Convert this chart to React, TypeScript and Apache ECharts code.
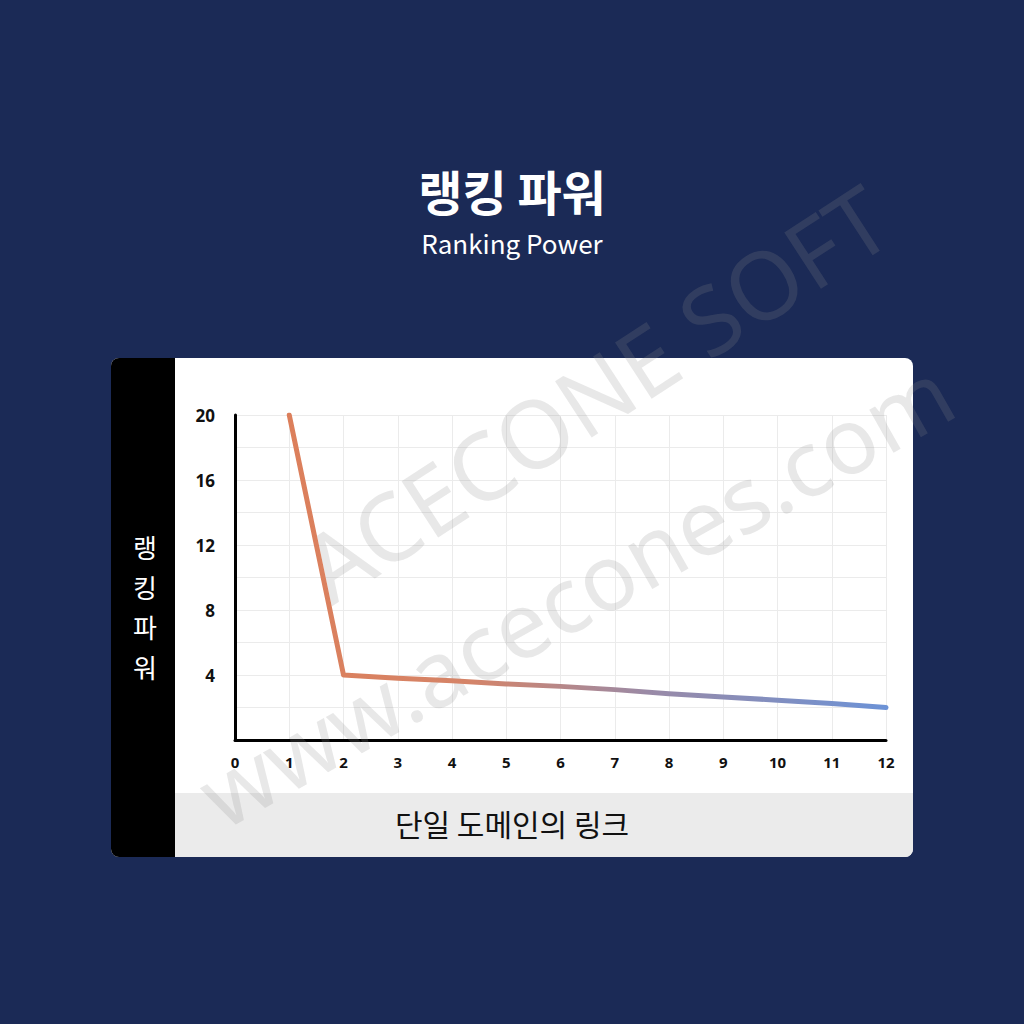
import { useEffect, useRef } from "react";
import * as echarts from "echarts";

// links from one domain (x) vs ranking power (y)
const linkCounts = [1, 2, 3, 4, 5, 6, 7, 8, 9, 10, 11, 12];
const rankingPower = [20, 4.0, 3.8, 3.65, 3.45, 3.3, 3.1, 2.85, 2.65, 2.45, 2.25, 2.0];
const yTickLabels = [4, 8, 12, 16, 20];

const titleText = "랭킹 파워";
const subtitleText = "Ranking Power";
const yAxisName = ["랭", "킹", "파", "워"];
const xAxisName = "단일 도메인의 링크";

const NAVY = "#1b2a56";
const LABEL_FONT = "'Noto Sans', 'Noto Sans CJK KR', sans-serif";
const KR_FONT = "'Noto Sans CJK KR', 'Noto Sans', sans-serif";

export default function App() {
  const chartRef = useRef<HTMLDivElement>(null);

  useEffect(() => {
    if (!chartRef.current) return;
    const chart = echarts.init(chartRef.current, null, { renderer: "svg" });

    const option = {
      animation: false,
      backgroundColor: NAVY,
      grid: { left: 235, right: 138, top: 415, bottom: 284, containLabel: false },
      xAxis: {
        type: "value",
        min: 0,
        max: 12,
        interval: 1,
        axisLine: { show: true, lineStyle: { color: "#000", width: 3 } },
        axisTick: { show: false },
        splitLine: { show: true, lineStyle: { color: "#ebebeb", width: 1 } },
        axisLabel: {
          margin: 14,
          color: "#111",
          fontFamily: LABEL_FONT,
          fontWeight: "bold",
          fontSize: 15
        }
      },
      yAxis: {
        type: "value",
        min: 0,
        max: 20,
        interval: 2,
        axisLine: { show: true, lineStyle: { color: "#000", width: 3 } },
        axisTick: { show: false },
        splitLine: { show: true, lineStyle: { color: "#ebebeb", width: 1 } },
        axisLabel: {
          margin: 20,
          color: "#111",
          fontFamily: LABEL_FONT,
          fontWeight: "bold",
          fontSize: 17,
          formatter: (v: number) => (yTickLabels.includes(v) ? String(v) : "")
        }
      },
      series: [
        {
          type: "line",
          z: 3,
          symbol: "none",
          data: linkCounts.map((x, i) => [x, rankingPower[i]]),
          lineStyle: {
            width: 5,
            cap: "round",
            join: "round",
            color: new echarts.graphic.LinearGradient(0, 0, 1, 0, [
              { offset: 0, color: "#dc7f5b" },
              { offset: 0.3, color: "#d58468" },
              { offset: 0.6, color: "#9a8aa6" },
              { offset: 1, color: "#6c92d6" }
            ])
          }
        }
      ],
      graphic: [
        // card
        {
          type: "rect",
          z: -10,
          shape: { x: 111, y: 358, width: 802, height: 499, r: 8 },
          style: { fill: "#ffffff" }
        },
        {
          type: "rect",
          z: -9,
          shape: { x: 175, y: 793, width: 738, height: 64, r: [0, 0, 8, 0] },
          style: { fill: "#ebebeb" }
        },
        {
          type: "rect",
          z: -9,
          shape: { x: 111, y: 358, width: 64, height: 499, r: [8, 0, 0, 8] },
          style: { fill: "#000000" }
        },
        // titles
        {
          type: "text",
          x: 512,
          y: 190,
          style: {
            text: titleText,
            fill: "#ffffff",
            font: `bold 48px ${KR_FONT}`,
            align: "center",
            verticalAlign: "middle"
          }
        },
        {
          type: "text",
          x: 512,
          y: 242,
          style: {
            text: subtitleText,
            fill: "#ffffff",
            font: `26px ${KR_FONT}`,
            align: "center",
            verticalAlign: "middle"
          }
        },
        // axis names
        ...yAxisName.map((ch, i) => ({
          type: "text",
          x: 145,
          y: 546 + i * 40,
          style: {
            text: ch,
            fill: "#ffffff",
            font: `26px ${KR_FONT}`,
            align: "center",
            verticalAlign: "middle"
          }
        })),
        {
          type: "text",
          x: 512,
          y: 823,
          style: {
            text: xAxisName,
            fill: "#111111",
            font: `30px ${KR_FONT}`,
            align: "center",
            verticalAlign: "middle"
          }
        },
        // watermark
        {
          type: "text",
          z: 1,
          x: 595,
          y: 392,
          rotation: (33 * Math.PI) / 180,
          style: {
            text: "ACECONE SOFT",
            fill: "rgba(140,140,140,0.2)",
            font: `94px ${LABEL_FONT}`,
            align: "center",
            verticalAlign: "middle"
          }
        },
        {
          type: "text",
          z: 1,
          x: 575,
          y: 592,
          rotation: (29.5 * Math.PI) / 180,
          style: {
            text: "www.acecones.com",
            fill: "rgba(140,140,140,0.2)",
            font: `92px ${LABEL_FONT}`,
            align: "center",
            verticalAlign: "middle"
          }
        }
      ]
    };

    chart.setOption(option);
    return () => {
      chart.dispose();
    };
  }, []);

  return <div ref={chartRef} style={{ position: "fixed", left: 0, top: 0, width: 1024, height: 1024 }} />;
}
